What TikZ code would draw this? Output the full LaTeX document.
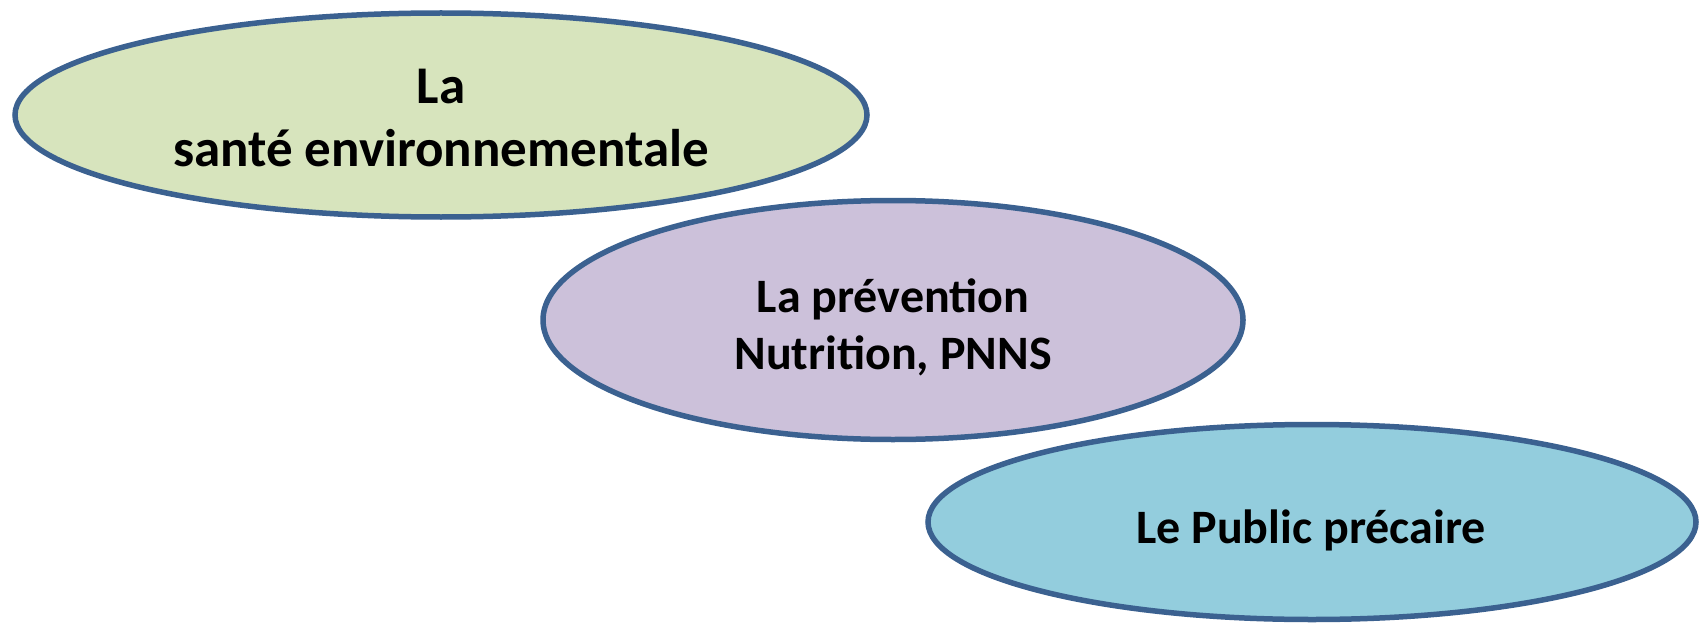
\documentclass[tikz,border=0pt]{standalone}
\usepackage{fontspec}
\setmainfont{Carlito}
\usetikzlibrary{shapes.geometric}
\definecolor{edge}{HTML}{3B6190}
\definecolor{fillA}{HTML}{D7E4BD}
\definecolor{fillB}{HTML}{CCC1DA}
\definecolor{fillC}{HTML}{93CDDD}
\tikzset{
  oval/.style={ellipse, draw=edge, line width=5.5pt, inner sep=0pt},
  lbl/.style={anchor=base, inner sep=0pt, font=\bfseries\fontsize{48}{54}\selectfont},
  big/.style={font=\bfseries\fontsize{53}{60}\selectfont}
}
\begin{document}
\begin{tikzpicture}[x=1pt,y=-1pt]
\useasboundingbox (0,0) rectangle (1702,623);
\node[oval, fill=fillA, minimum width=852pt, minimum height=204pt] (e1) at (441,115) {};
\node[oval, fill=fillB, minimum width=700pt, minimum height=239pt] (e2) at (893,320) {};
\node[oval, fill=fillC, minimum width=768pt, minimum height=195pt] (e3) at (1312,522) {};
\node[lbl, big] (t1a) at (441,104) {La};
\node[lbl, big] (t1b) at (441,166) {santé environnementale};
\node[lbl] (t2a) at (893,312) {La prévention};
\node[lbl] (t2b) at (893,369) {Nutrition, PNNS};
\node[lbl] (t3) at (1311,543) {Le Public précaire};
\end{tikzpicture}
\end{document}
